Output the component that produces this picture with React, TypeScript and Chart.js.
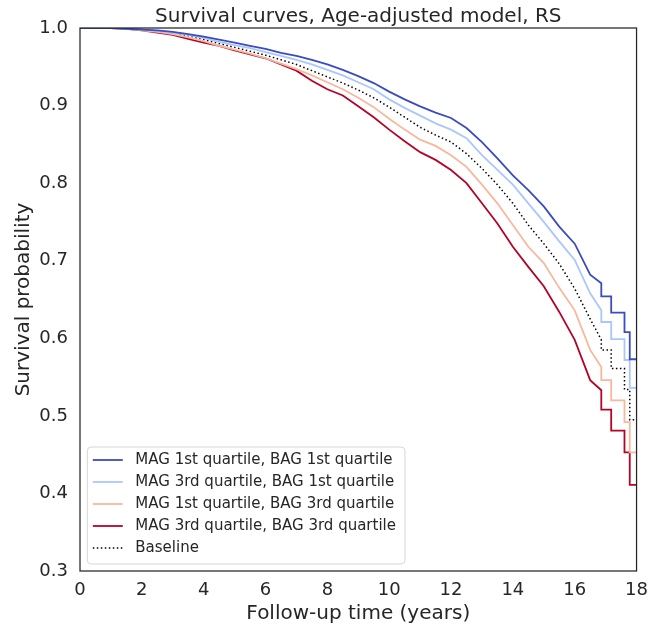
import React, { useEffect, useRef } from "react";
import { Chart, registerables } from "chart.js";

Chart.register(...registerables);

const TITLE = "Survival curves, Age-adjusted model, RS";
const X_LABEL = "Follow-up time (years)";
const Y_LABEL = "Survival probability";
const X_TICKS = [0, 2, 4, 6, 8, 10, 12, 14, 16, 18];
const Y_TICKS = [0.3, 0.4, 0.5, 0.6, 0.7, 0.8, 0.9, 1.0];

// follow-up times (years) for the smooth part of the curves
const TIMES = [0, 1, 1.5, 2, 2.5, 3, 3.5, 4, 4.5, 5, 5.5, 6, 6.5, 7, 7.5, 8, 8.5, 9, 9.5, 10,
  10.5, 11, 11.5, 12, 12.5, 13, 13.5, 14, 14.5, 15, 15.5, 16, 16.5];
// event times of the last large steps
const STEP_TIMES = [16.86, 17.18, 17.61, 17.78];
const END_TIME = 18;

const LABELS = [
  "MAG 1st quartile, BAG 1st quartile",
  "MAG 3rd quartile, BAG 1st quartile",
  "MAG 1st quartile, BAG 3rd quartile",
  "MAG 3rd quartile, BAG 3rd quartile",
  "Baseline",
];

const Q11 = [1, 1, 0.999, 0.998, 0.997, 0.995, 0.992, 0.989, 0.985, 0.981, 0.977, 0.973, 0.968, 0.964, 0.959, 0.953, 0.946, 0.938, 0.929, 0.918,
  0.908, 0.899, 0.891, 0.884, 0.871, 0.853, 0.832, 0.810, 0.791, 0.770, 0.744, 0.722, 0.682];
const Q11_TAIL = [0.671, 0.654, 0.633, 0.608, 0.573];

const Q31 = [1, 1, 0.999, 0.998, 0.996, 0.994, 0.991, 0.987, 0.982, 0.978, 0.974, 0.969, 0.964, 0.959, 0.953, 0.946, 0.939, 0.930, 0.921, 0.908,
  0.897, 0.887, 0.877, 0.869, 0.858, 0.836, 0.817, 0.798, 0.774, 0.750, 0.725, 0.701, 0.658];
const Q31_TAIL = [0.636, 0.621, 0.599, 0.572, 0.536];

const Q13 = [1, 1, 0.999, 0.997, 0.995, 0.992, 0.988, 0.983, 0.977, 0.972, 0.967, 0.961, 0.954, 0.947, 0.939, 0.930, 0.921, 0.910, 0.898, 0.883,
  0.869, 0.856, 0.848, 0.836, 0.821, 0.798, 0.774, 0.746, 0.718, 0.697, 0.665, 0.636, 0.585];
const Q13_TAIL = [0.563, 0.546, 0.520, 0.492, 0.453];

const Q33 = [1, 1, 0.999, 0.997, 0.994, 0.991, 0.986, 0.981, 0.977, 0.971, 0.966, 0.961, 0.953, 0.945, 0.932, 0.921, 0.913, 0.899, 0.885, 0.869,
  0.854, 0.840, 0.830, 0.817, 0.800, 0.774, 0.748, 0.718, 0.692, 0.667, 0.634, 0.598, 0.546];
const Q33_TAIL = [0.533, 0.508, 0.481, 0.453, 0.411];

const BASE = [1, 1, 0.999, 0.998, 0.996, 0.993, 0.990, 0.985, 0.980, 0.975, 0.970, 0.965, 0.959, 0.953, 0.945, 0.937, 0.929, 0.920, 0.910, 0.898,
  0.885, 0.872, 0.862, 0.853, 0.838, 0.819, 0.798, 0.774, 0.746, 0.722, 0.696, 0.664, 0.625];
const BASE_TAIL = [0.598, 0.585, 0.561, 0.534, 0.495];

const COLORS = ["#3b4cc0", "#aac7fd", "#f7b89c", "#b40426", "#000000"];
const TEXT = "#262626";
const FONT = "'DejaVu Sans', sans-serif";

function buildPoints(values: number[], tail: number[]) {
  const pts: { x: number; y: number }[] = TIMES.map((t, i) => ({ x: t, y: values[i] }));
  pts.push({ x: STEP_TIMES[0], y: tail[0] });
  for (let k = 0; k < STEP_TIMES.length; k++) {
    pts.push({ x: STEP_TIMES[k], y: tail[k + 1] });
    const nextT = k + 1 < STEP_TIMES.length ? STEP_TIMES[k + 1] : END_TIME;
    pts.push({ x: nextT, y: tail[k + 1] });
  }
  return pts;
}

const framePlugin = {
  id: "frame",
  afterDatasetsDraw(chart: any) {
    const { ctx, chartArea: ca } = chart;
    ctx.save();
    ctx.strokeStyle = TEXT;
    ctx.lineWidth = 1.25;
    ctx.strokeRect(ca.left, ca.top, ca.right - ca.left, ca.bottom - ca.top);
    ctx.restore();
  },
};

// title centred over the plot area, like matplotlib's axes title
const titlePlugin = {
  id: "axesTitle",
  afterDraw(chart: any) {
    const { ctx, chartArea: ca } = chart;
    ctx.save();
    ctx.font = `20px ${FONT}`;
    ctx.fillStyle = TEXT;
    ctx.textAlign = "center";
    ctx.textBaseline = "alphabetic";
    ctx.fillText(TITLE, (ca.left + ca.right) / 2, ca.top - 6);
    ctx.restore();
  },
};

const legendPlugin = {
  id: "insideLegend",
  afterDraw(chart: any) {
    const { ctx, chartArea: ca } = chart;
    const ds = chart.data.datasets;
    ctx.save();
    ctx.font = `15px ${FONT}`;
    const textW = Math.max(...ds.map((d: any) => ctx.measureText(d.label).width));
    const rowH = 22;
    const bw = 5.5 + 30 + 12.5 + textW + 9;
    const bh = 13 + rowH * (ds.length - 1) + 16;
    const bx = ca.left + 7.3;
    const by = ca.bottom - 7 - bh;
    const r = 4;
    ctx.beginPath();
    ctx.moveTo(bx + r, by);
    ctx.lineTo(bx + bw - r, by);
    ctx.quadraticCurveTo(bx + bw, by, bx + bw, by + r);
    ctx.lineTo(bx + bw, by + bh - r);
    ctx.quadraticCurveTo(bx + bw, by + bh, bx + bw - r, by + bh);
    ctx.lineTo(bx + r, by + bh);
    ctx.quadraticCurveTo(bx, by + bh, bx, by + bh - r);
    ctx.lineTo(bx, by + r);
    ctx.quadraticCurveTo(bx, by, bx + r, by);
    ctx.closePath();
    ctx.fillStyle = "rgba(255,255,255,0.8)";
    ctx.fill();
    ctx.strokeStyle = "rgba(204,204,204,0.8)";
    ctx.lineWidth = 1;
    ctx.stroke();
    ds.forEach((d: any, i: number) => {
      const cy = by + 13 + i * rowH;
      ctx.beginPath();
      ctx.strokeStyle = d.borderColor;
      ctx.lineWidth = d.borderWidth;
      ctx.setLineDash(d.borderDash || []);
      ctx.moveTo(bx + 5.5, cy);
      ctx.lineTo(bx + 35.5, cy);
      ctx.stroke();
      ctx.setLineDash([]);
      ctx.fillStyle = TEXT;
      ctx.textBaseline = "middle";
      ctx.textAlign = "left";
      ctx.fillText(d.label, bx + 48, cy);
    });
    ctx.restore();
  },
};

export default function App() {
  const ref = useRef<HTMLCanvasElement | null>(null);

  useEffect(() => {
    if (!ref.current) return;
    const series = [
      [Q11, Q11_TAIL],
      [Q31, Q31_TAIL],
      [Q13, Q13_TAIL],
      [Q33, Q33_TAIL],
      [BASE, BASE_TAIL],
    ];
    const datasets = series.map(([v, t], i) => ({
      label: LABELS[i],
      data: buildPoints(v as number[], t as number[]),
      borderColor: COLORS[i],
      backgroundColor: COLORS[i],
      borderWidth: i === 4 ? 1.5 : 1.8,
      borderDash: i === 4 ? [1.5, 2.5] : [],
      pointRadius: 0,
      tension: 0,
      fill: false,
    }));
    const chart = new Chart(ref.current, {
      type: "line",
      data: { datasets },
      plugins: [framePlugin, titlePlugin, legendPlugin],
      options: {
        animation: false,
        responsive: false,
        maintainAspectRatio: false,
        devicePixelRatio: 1,
        layout: { padding: { left: 0, right: 20, top: 28, bottom: 0 } },
        plugins: {
          legend: { display: false },
          tooltip: { enabled: false },
          title: { display: false },
        },
        scales: {
          x: {
            type: "linear",
            min: 0,
            max: 18,
            grid: { display: false, drawTicks: false },
            border: { display: false },
            afterBuildTicks: (s: any) => {
              s.ticks = X_TICKS.map((v) => ({ value: v }));
            },
            afterFit: (s: any) => {
              s.height = 59;
            },
            ticks: {
              color: TEXT,
              font: { family: FONT, size: 18 },
              padding: 9,
              maxRotation: 0,
              callback: (v: any) => String(v),
            },
            title: {
              display: true,
              text: X_LABEL,
              color: TEXT,
              font: { family: FONT, size: 20 },
              padding: { top: 0, bottom: 4 },
            },
          },
          y: {
            type: "linear",
            min: 0.3,
            max: 1.0,
            grid: { display: false, drawTicks: false },
            border: { display: false },
            afterBuildTicks: (s: any) => {
              s.ticks = Y_TICKS.map((v) => ({ value: v }));
            },
            afterFit: (s: any) => {
              s.width = 80;
            },
            ticks: {
              color: TEXT,
              font: { family: FONT, size: 18 },
              padding: 12,
              callback: (v: any) => Number(v).toFixed(1),
            },
            title: {
              display: true,
              text: Y_LABEL,
              color: TEXT,
              font: { family: FONT, size: 20 },
              padding: { top: 12, bottom: 0 },
            },
          },
        },
      },
    } as any);
    return () => chart.destroy();
  }, []);

  return (
    <div style={{ position: "fixed", left: 0, top: 0, width: 657, height: 630, background: "#fff" }}>
      <canvas ref={ref} width={657} height={630} style={{ width: 657, height: 630, display: "block" }} />
    </div>
  );
}
